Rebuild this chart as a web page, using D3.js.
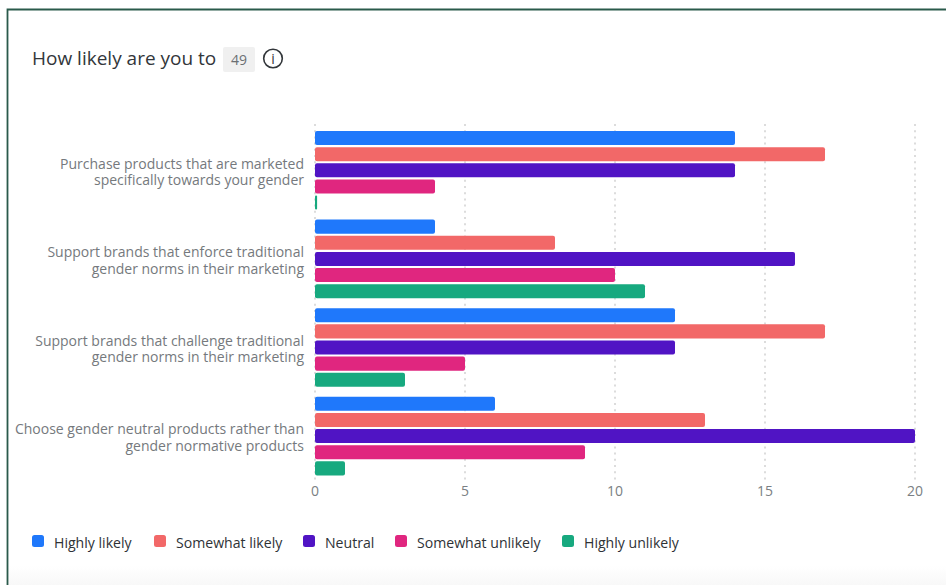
<!DOCTYPE html>
<html><head><meta charset="utf-8">
<script src="https://cdnjs.cloudflare.com/ajax/libs/d3/7.8.5/d3.min.js"></script>
<style>
html,body{margin:0;padding:0;background:#fff;overflow:hidden}
text{font-family:"Open Sans",sans-serif}
</style></head><body>
<svg id="c" width="946" height="585"></svg>
<script>
const title = "How likely are you to";
const responseCount = "49";
const categories = [
  ["Purchase products that are marketed","specifically towards your gender"],
  ["Support brands that enforce traditional","gender norms in their marketing"],
  ["Support brands that challenge traditional","gender norms in their marketing"],
  ["Choose gender neutral products rather than","gender normative products"]
];
const seriesNames = ["Highly likely","Somewhat likely","Neutral","Somewhat unlikely","Highly unlikely"];
const seriesColors = ["#1f78fb","#f26868","#5014c4","#e0267f","#17a97f"];
const highlyLikely = [14,4,12,6];
const somewhatLikely = [17,8,17,13];
const neutral = [14,16,12,20];
const somewhatUnlikely = [4,10,5,9];
const highlyUnlikely = [0.07,11,3,1];
const seriesValues = [highlyLikely,somewhatLikely,neutral,somewhatUnlikely,highlyUnlikely];
const xTicks = [0,5,10,15,20];
const legendX = [32,154,303,395,562];

const svg = d3.select("#c");
const defs = svg.append("defs");
const grad = defs.append("linearGradient").attr("id","fade").attr("x1",0).attr("x2",0).attr("y1",0).attr("y2",1);
grad.append("stop").attr("offset",0).attr("stop-color","#fff");
grad.append("stop").attr("offset",1).attr("stop-color","#f8f8f8");
svg.append("rect").attr("x",8).attr("y",566).attr("width",938).attr("height",19).attr("fill","url(#fade)");

// card border
svg.append("path").attr("d","M7.5 585V9.5H946").attr("fill","none").attr("stroke","#2a5a4b").attr("stroke-width",1.8);

// heading
svg.append("text").attr("x",32).attr("y",65).attr("font-size",19).attr("fill","#32363a").text(title);
svg.append("rect").attr("x",223).attr("y",47).attr("width",32).attr("height",25).attr("rx",2).attr("fill","#f0f0f0");
svg.append("text").attr("x",239).attr("y",64.5).attr("text-anchor","middle").attr("font-size",14).attr("fill","#6b6f73").text(responseCount);
svg.append("circle").attr("cx",273).attr("cy",58.5).attr("r",9.3).attr("fill","none").attr("stroke","#32363a").attr("stroke-width",1.6);
svg.append("text").attr("x",273).attr("y",64).attr("text-anchor","middle").attr("font-size",14).attr("font-family","Liberation Serif").attr("fill","#32363a").text("i");

const x = d3.scaleLinear().domain([0,20]).range([315,915]);
const y0 = d3.scaleBand().domain(d3.range(categories.length)).range([126.4,480.8]);
const y1 = d3.scaleBand().domain(d3.range(seriesNames.length)).range([4.6,83.2]).paddingInner(0.13).paddingOuter(0);

// grid
svg.append("g").selectAll("line").data(xTicks).join("line")
  .attr("x1",d=>x(d)).attr("x2",d=>x(d)).attr("y1",124).attr("y2",481)
  .attr("stroke","#dcdcdc").attr("stroke-width",2).attr("stroke-dasharray","2 4.2");

// bars
const groups = svg.append("g").selectAll("g").data(categories).join("g")
  .attr("transform",(d,i)=>`translate(0,${y0(i)})`);
groups.selectAll("rect").data((d,i)=>seriesValues.map((s,k)=>({k,v:s[i]}))).join("rect")
  .attr("x",x(0)).attr("y",d=>y1(d.k))
  .attr("width",d=>x(d.v)-x(0)).attr("height",y1.bandwidth())
  .attr("rx",d=>d.v<0.5?1:2)
  .attr("fill",d=>seriesColors[d.k]);

// category labels
groups.each(function(d,i){
  const t = d3.select(this).append("text").attr("text-anchor","end").attr("font-size",14).attr("fill","#75797d");
  d.forEach((line,j)=>t.append("tspan").attr("x",304).attr("y",42.2+j*16.4).text(line));
});

// x axis labels
svg.append("g").selectAll("text").data(xTicks).join("text")
  .attr("x",d=>x(d)).attr("y",496).attr("text-anchor","middle").attr("font-size",14).attr("fill","#7b7f83").text(d=>d);

// legend
const leg = svg.append("g").selectAll("g").data(seriesNames).join("g")
  .attr("transform",(d,i)=>`translate(${legendX[i]},0)`);
leg.append("rect").attr("y",535).attr("width",12).attr("height",12).attr("rx",2.5).attr("fill",(d,i)=>seriesColors[i]);
leg.append("text").attr("x",22).attr("y",548).attr("font-size",14.1).attr("fill","#2e3236").text(d=>d);
</script></body></html>
